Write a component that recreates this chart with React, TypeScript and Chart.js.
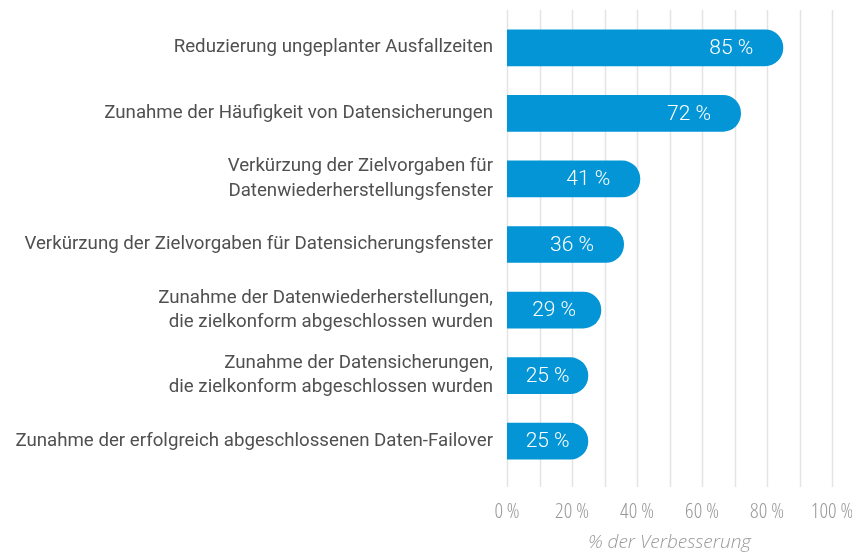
import React, { useEffect, useRef } from "react";
import { Chart, registerables } from "chart.js";

Chart.register(...registerables);

const categories: (string | string[])[] = [
  "Reduzierung ungeplanter Ausfallzeiten",
  "Zunahme der Häufigkeit von Datensicherungen",
  ["Verkürzung der Zielvorgaben für", "Datenwiederherstellungsfenster"],
  "Verkürzung der Zielvorgaben für Datensicherungsfenster",
  ["Zunahme der Datenwiederherstellungen,", "die zielkonform abgeschlossen wurden"],
  ["Zunahme der Datensicherungen,", "die zielkonform abgeschlossen wurden"],
  "Zunahme der erfolgreich abgeschlossenen Daten-Failover",
];
const improvement: number[] = [85, 72, 41, 36, 29, 25, 25];
const xTickValues: number[] = [0, 20, 40, 60, 80, 100];
const axisTitle = "% der Verbesserung";

const BAR_COLOR = "#0395d5";

const gridPlugin = {
  id: "extGrid",
  beforeDatasetsDraw(chart: any) {
    const { ctx, chartArea, scales } = chart;
    const x = scales.x;
    ctx.save();
    ctx.strokeStyle = "#e4e4e4";
    ctx.lineWidth = 1.5;
    for (let v = 0; v <= 100; v += 10) {
      const px = Math.round(x.getPixelForValue(v)) + 0.5;
      ctx.beginPath();
      ctx.moveTo(px, chartArea.top - 5);
      ctx.lineTo(px, chartArea.bottom + 13);
      ctx.stroke();
    }
    ctx.restore();
  },
};

const labelPlugin = {
  id: "valueLabels",
  afterDatasetsDraw(chart: any) {
    const { ctx } = chart;
    const meta = chart.getDatasetMeta(0);
    ctx.save();
    ctx.fillStyle = "#ffffff";
    ctx.font = "300 21px Roboto, 'Liberation Sans', sans-serif";
    ctx.textAlign = "center";
    ctx.textBaseline = "middle";
    meta.data.forEach((bar: any, i: number) => {
      const start = bar.base;
      const end = bar.x;
      const cx = Math.max((start + end) / 2, end - 52);
      ctx.fillText(`${improvement[i]} %`, cx, bar.y + 1);
    });
    ctx.restore();
  },
};

export default function App() {
  const ref = useRef<HTMLCanvasElement | null>(null);
  useEffect(() => {
    if (!ref.current) return;
    const chart = new Chart(ref.current, {
      type: "bar",
      data: {
        labels: categories,
        datasets: [
          {
            data: improvement,
            backgroundColor: BAR_COLOR,
            borderRadius: { topLeft: 0, bottomLeft: 0, topRight: 18, bottomRight: 18 },
            borderSkipped: false,
            barPercentage: 0.56,
            categoryPercentage: 1,
          },
        ],
      },
      options: {
        indexAxis: "y",
        animation: false,
        responsive: true,
        maintainAspectRatio: false,
        layout: { padding: { top: 7, right: 20, left: 0, bottom: 0 } },
        plugins: { legend: { display: false }, tooltip: { enabled: false } },
        scales: {
          x: {
            min: 0,
            max: 100,
            afterBuildTicks: (scale: any) => {
              scale.ticks = xTickValues.map((v) => ({ value: v }));
            },
            afterFit: (scale: any) => {
              scale.height = 80;
              scale.paddingLeft = 0;
              scale.paddingRight = 0;
            },
            grid: { display: false, drawTicks: true, tickLength: 13 },
            border: { display: false },
            ticks: {
              padding: 12,
              color: "#999999",
              font: { family: "'Open Sans', sans-serif", size: 21, weight: "300 condensed" as any },
              callback: (v: any) => `${v} %`,
            },
            title: {
              display: true,
              text: axisTitle,
              color: "#999999",
              font: { family: "'Open Sans', sans-serif", size: 19, style: "italic", weight: 300 },
              padding: { top: 9, bottom: 0 },
            },
          },
          y: {
            afterFit: (scale: any) => {
              scale.width = 499;
              scale.paddingTop = 0;
              scale.paddingBottom = 0;
            },
            grid: { display: false, drawTicks: false },
            border: { display: false },
            ticks: {
              padding: 14,
              color: "#505050",
              font: { family: "Roboto, sans-serif", size: 18.7, lineHeight: 1.3 },
            },
          },
        },
      },
      plugins: [gridPlugin, labelPlugin],
    });
    return () => chart.destroy();
  }, []);
  return (
    <div style={{ width: 844, height: 546 }}>
      <canvas ref={ref} />
    </div>
  );
}
